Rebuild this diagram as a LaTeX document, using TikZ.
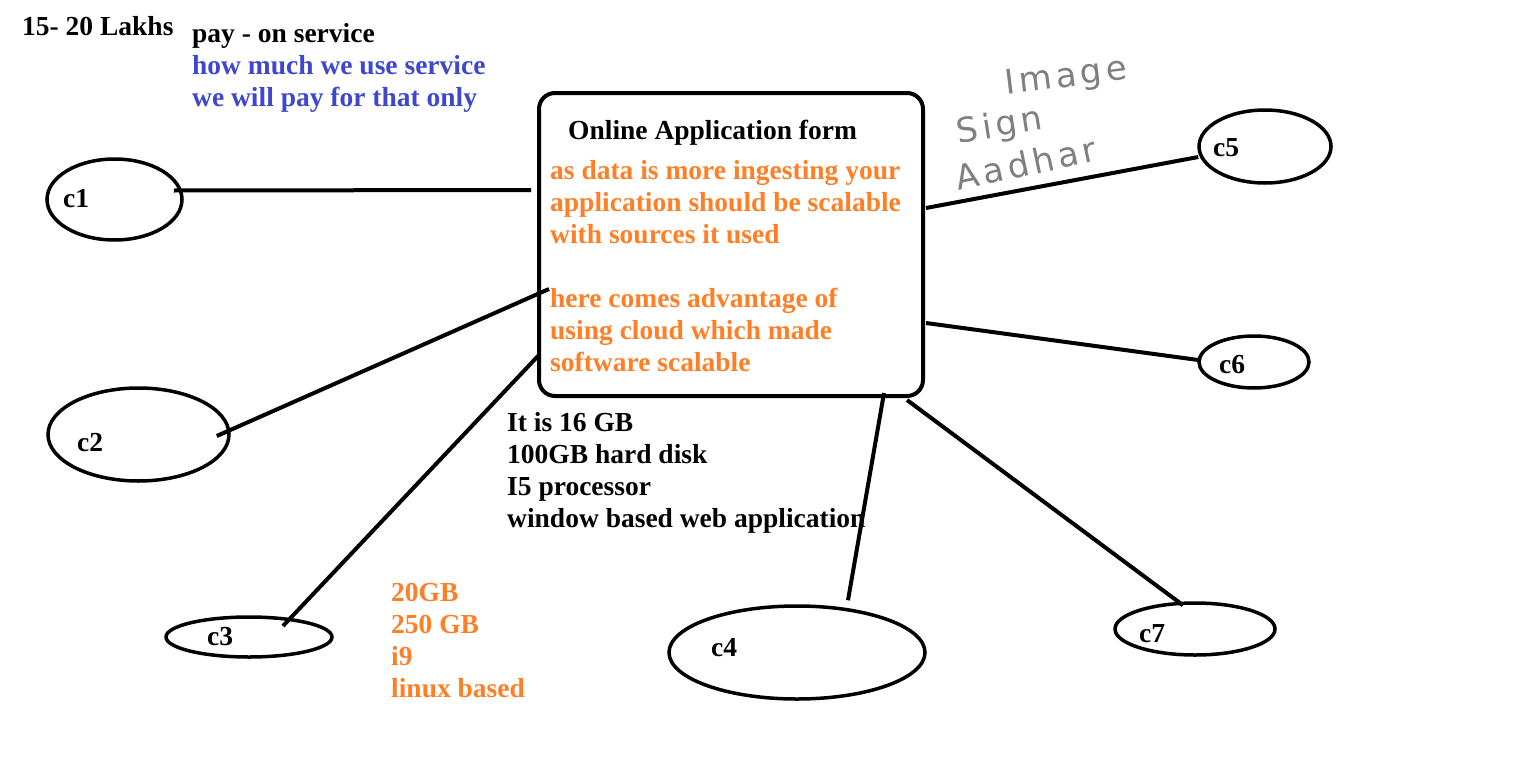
\documentclass[tikz,border=0pt]{standalone}
\usepackage{fontspec}
\setmainfont{Liberation Serif}
\newfontfamily\handfont{DejaVu Sans}[LetterSpace=12.0]
\usetikzlibrary{shapes.geometric,positioning,calc}

\definecolor{paintorange}{HTML}{FF7F27}
\definecolor{paintblue}{HTML}{3F48CC}
\definecolor{pencilgray}{HTML}{7F7F7F}

\begin{document}
\begin{tikzpicture}[x=1pt, y=-1pt,
    txt/.style={inner sep=0pt, anchor=west, align=left, font=\fontsize{27.5}{32}\selectfont\bfseries},
    hand/.style={inner sep=0pt, text=pencilgray, font=\fontsize{34}{36}\selectfont\handfont},
    client/.style={draw, ellipse, line width=3.5pt, inner sep=0pt},
    link/.style={line width=4pt}]
    \useasboundingbox (0,0) rectangle (1522,760);
    % Top notes
    \node[txt] (lakhs) at (22,26) {15- 20 Lakhs};
    \node[txt] (pay) at (192,36) {pay - on service};
    \node[txt, text=paintblue] (usage) at (192,84) {how much we use service\\we will pay for that only};
    % Application box
    \draw[line width=4pt, rounded corners=16pt] (539,93) rectangle (923,396);
    \coordinate (app) at (539,93);
    \coordinate (appse) at (923,396);
    \coordinate (appne) at (923,93);
    \node[txt] (title) at (568,133) {Online Application form};
    \node[txt, text=paintorange] (scal) at (550,202) {as data is more ingesting your\\application should be scalable\\with sources it used};
    \node[txt, text=paintorange] (cloud) at (550,330) {here comes advantage of\\using cloud which made\\software scalable};
    % Specs
    \node[txt] (spec1) at (507,473) {It is 16 GB\\100GB hard disk\\I5 processor\\window based web application};
    \node[txt, text=paintorange] (spec2) at (391,641) {20GB\\250 GB\\i9\\linux based};
    % Handwritten notes
    \node[hand, rotate=7] (image) at (1066,78) {Image};
    \node[hand, rotate=9] (sign) at (1000,127) {Sign};
    \node[hand, rotate=12] (aadhar) at (1026,163) {Aadhar};
    % Clients
    \node[client, minimum width=135pt, minimum height=81pt] (c1) at (114.5,199.5) {};
    \node[client, minimum width=181pt, minimum height=93pt] (c2) at (138.5,434.5) {};
    \node[client, minimum width=166pt, minimum height=40pt] (c3) at (249,637) {};
    \node[client, minimum width=256pt, minimum height=93pt] (c4) at (797,652.5) {};
    \node[client, minimum width=132pt, minimum height=73pt] (c5) at (1265,146.5) {};
    \node[client, minimum width=110pt, minimum height=52pt] (c6) at (1254,362) {};
    \node[client, minimum width=160pt, minimum height=52pt] (c7) at (1195,629) {};
    \node[txt] (c1txt) at (63,199) {c1};
    \node[txt] (c2txt) at (77,443) {c2};
    \node[txt] (c3txt) at (207,637) {c3};
    \node[txt] (c4txt) at (711,648) {c4};
    \node[txt] (c5txt) at (1213,148) {c5};
    \node[txt] (c6txt) at (1219,365) {c6};
    \node[txt] (c7txt) at (1139,634) {c7};
    % Connections
    \draw[link] ([shift={(-10,-9)}]c1.east) -- ([shift={(-8,97)}]app);
    \draw[link] ([shift={(-14,1.5)}]c2.east) -- ([shift={(10,196)}]app);
    \draw[link] ([shift={(34,-11)}]c3.center) -- ([shift={(-1,263)}]app);
    \draw[link] ([shift={(51,-4)}]c4.north) -- ([shift={(-39,-3)}]appse);
    \draw[link] ([shift={(3,115)}]appne) -- ([shift={(1,10.5)}]c5.west);
    \draw[link] ([shift={(3,230)}]appne) -- ([shift={(1,-2)}]c6.west);
    \draw[link] ([shift={(-16,4)}]appse) -- ([shift={(-12,4)}]c7.north);
\end{tikzpicture}
\end{document}
